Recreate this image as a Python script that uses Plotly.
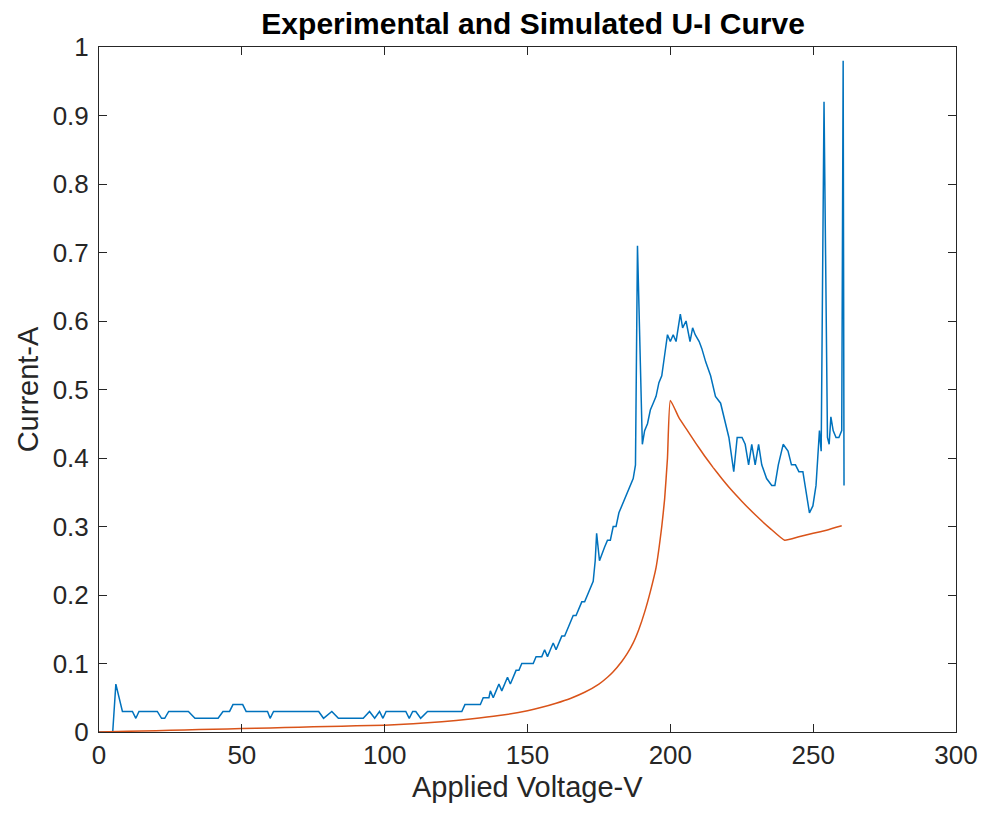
import plotly.graph_objects as go

# Experimental (measured) U-I data
exp_v = [0, 4.8, 5.9, 8.2, 11.7, 12.9, 14, 20.4, 21.9, 23, 24.4, 31.3, 33.6, 41.7, 43.4,
         45.7, 46.9, 50.3, 51.5, 59, 59.9, 61.1, 76.9, 78.6, 81.5, 83.8, 92.5, 94.7, 96.5,
         98.2, 99.4, 100.5, 107.4, 108.6, 109.8, 110.9, 112.6, 115, 127, 128.1, 132.8,
         133.5, 134.5, 135.5, 136.5, 137, 138, 139, 140, 141, 142, 143, 144, 145, 146, 147,
         148, 149, 150, 151, 152, 153, 154, 155, 156, 157, 158, 159, 160, 161, 162, 163,
         164, 165, 166, 167, 168, 169, 170, 171, 172, 173, 173.7, 174.2, 175.2, 176, 177,
         178, 179, 180, 181, 182, 183, 184, 185, 186, 187, 187.8, 188.5, 190.2, 191, 192,
         193, 194, 195, 196, 197, 198, 199, 200, 201, 202, 203, 203.5, 204.3, 205.5, 206.9,
         207.8, 208.7, 210.1, 211, 212.4, 214.1, 215.8, 217.6, 219.3, 220.5, 222.2, 223.4,
         225.1, 226.2, 227.4, 228.5, 229.7, 230.9, 232, 233.7, 235.5, 236.6, 237.8, 239.5,
         241.2, 242.4, 243.8, 245, 246.4, 247.6, 248.7, 249.9, 251, 251.6, 252.2, 252.8,
         253.8, 255, 255.6, 256.2, 257, 258, 259, 260, 260.5, 260.8]
exp_i = [0, 0, 0.07, 0.03, 0.03, 0.02, 0.03, 0.03, 0.02, 0.02, 0.03, 0.03, 0.02, 0.02, 0.03,
         0.03, 0.04, 0.04, 0.03, 0.03, 0.02, 0.03, 0.03, 0.02, 0.03, 0.02, 0.02, 0.03, 0.02,
         0.03, 0.02, 0.03, 0.03, 0.02, 0.03, 0.03, 0.02, 0.03, 0.03, 0.04, 0.04,
         0.04, 0.05, 0.05, 0.05, 0.06, 0.05, 0.06, 0.07, 0.06, 0.07, 0.08, 0.07, 0.08, 0.09, 0.09,
         0.10, 0.10, 0.10, 0.10, 0.10, 0.11, 0.11, 0.11, 0.12, 0.11, 0.12, 0.13, 0.12, 0.13,
         0.14, 0.14, 0.15, 0.16, 0.17, 0.17, 0.18, 0.19, 0.19, 0.20, 0.21, 0.22, 0.25, 0.29,
         0.25, 0.26, 0.27, 0.28, 0.28, 0.30, 0.30, 0.32, 0.33, 0.34, 0.35, 0.36, 0.37, 0.39,
         0.71, 0.42, 0.44, 0.45, 0.47, 0.48, 0.49, 0.51, 0.52, 0.55, 0.58, 0.57, 0.58, 0.57,
         0.60, 0.61, 0.59, 0.60, 0.57, 0.59, 0.58, 0.57, 0.56, 0.54, 0.52, 0.49, 0.48, 0.45,
         0.43, 0.38, 0.43, 0.43, 0.42, 0.39, 0.42, 0.39, 0.42, 0.39, 0.37, 0.36, 0.36, 0.39,
         0.42, 0.41, 0.39, 0.39, 0.38, 0.38, 0.35, 0.32, 0.33, 0.36, 0.40, 0.44, 0.41, 0.92,
         0.43, 0.42, 0.46, 0.44, 0.43, 0.43, 0.44, 0.98, 0.36]

# Simulated U-I data
sim_v = [0, 10, 20, 30, 40, 50, 60, 70, 80, 90, 100, 110, 120, 130, 140, 150, 155, 160,
         165, 170, 175, 178, 180, 183, 185, 187, 189, 191, 193, 195, 197, 198, 199, 200,
         203, 206, 209, 212, 215, 218, 221, 225, 230, 235, 240, 245, 250, 255, 260]
sim_i = [0.000, 0.001, 0.002, 0.003, 0.004, 0.005, 0.006, 0.007, 0.008, 0.009, 0.010,
         0.012, 0.015, 0.019, 0.024, 0.031, 0.036, 0.042, 0.049, 0.058, 0.070, 0.080,
         0.088, 0.103, 0.115, 0.130, 0.150, 0.175, 0.205, 0.240, 0.300, 0.340, 0.400,
         0.484, 0.459, 0.440, 0.421, 0.403, 0.386, 0.370, 0.355, 0.337, 0.316, 0.297,
         0.280, 0.285, 0.290, 0.295, 0.301]

x_ticks = [0, 50, 100, 150, 200, 250, 300]
y_ticks = [0, 0.1, 0.2, 0.3, 0.4, 0.5, 0.6, 0.7, 0.8, 0.9, 1]

FONT = "Liberation Sans, Arial, sans-serif"
AX = "#262626"

PLOT_TOP, PLOT_BOTTOM = 47, 88
PLOT_H = 820 - PLOT_TOP - PLOT_BOTTOM

fig = go.Figure()
fig.add_trace(go.Scatter(x=exp_v, y=exp_i, mode="lines",
                         line=dict(color="#0072BD", width=1.5), showlegend=False))
fig.add_trace(go.Scatter(x=sim_v, y=sim_i, mode="lines",
                         line=dict(color="#D95319", width=1.5, shape="spline", smoothing=0.4),
                         showlegend=False))

axis_common = dict(showgrid=False, zeroline=False, showline=True, linecolor=AX,
                   linewidth=1, mirror="allticks", ticks="inside", ticklen=8,
                   tickcolor=AX, tickwidth=1,
                   tickfont=dict(family=FONT, size=26, color=AX))

fig.update_layout(
    width=990, height=820,
    margin=dict(l=99, r=23, t=PLOT_TOP, b=PLOT_BOTTOM),
    paper_bgcolor="white", plot_bgcolor="white",
    title=dict(text="<b>Experimental and Simulated U-I Curve</b>", x=0.5385, xanchor="center",
               y=1 - 23 / 820, yanchor="middle",
               font=dict(family=FONT, size=30, color="black")),
    xaxis=dict(range=[0, 300], tickvals=x_ticks, ticktext=[str(v) for v in x_ticks],
               ticklabelstandoff=0, **axis_common),
    yaxis=dict(range=[0, 1], tickvals=y_ticks, ticktext=[f"{v:g}" for v in y_ticks],
               ticklabelstandoff=4,
               title=dict(text="Current-A", standoff=5,
                          font=dict(family=FONT, size=29, color=AX)),
               **axis_common),
)

# x-axis title placed as paper annotation just under the tick labels
fig.add_annotation(text="Applied Voltage-V", xref="paper", yref="paper",
                   x=0.5, y=-(787 - (820 - PLOT_BOTTOM)) / PLOT_H,
                   xanchor="center", yanchor="middle", showarrow=False,
                   font=dict(family=FONT, size=29, color=AX))

fig.write_html("out.html")
